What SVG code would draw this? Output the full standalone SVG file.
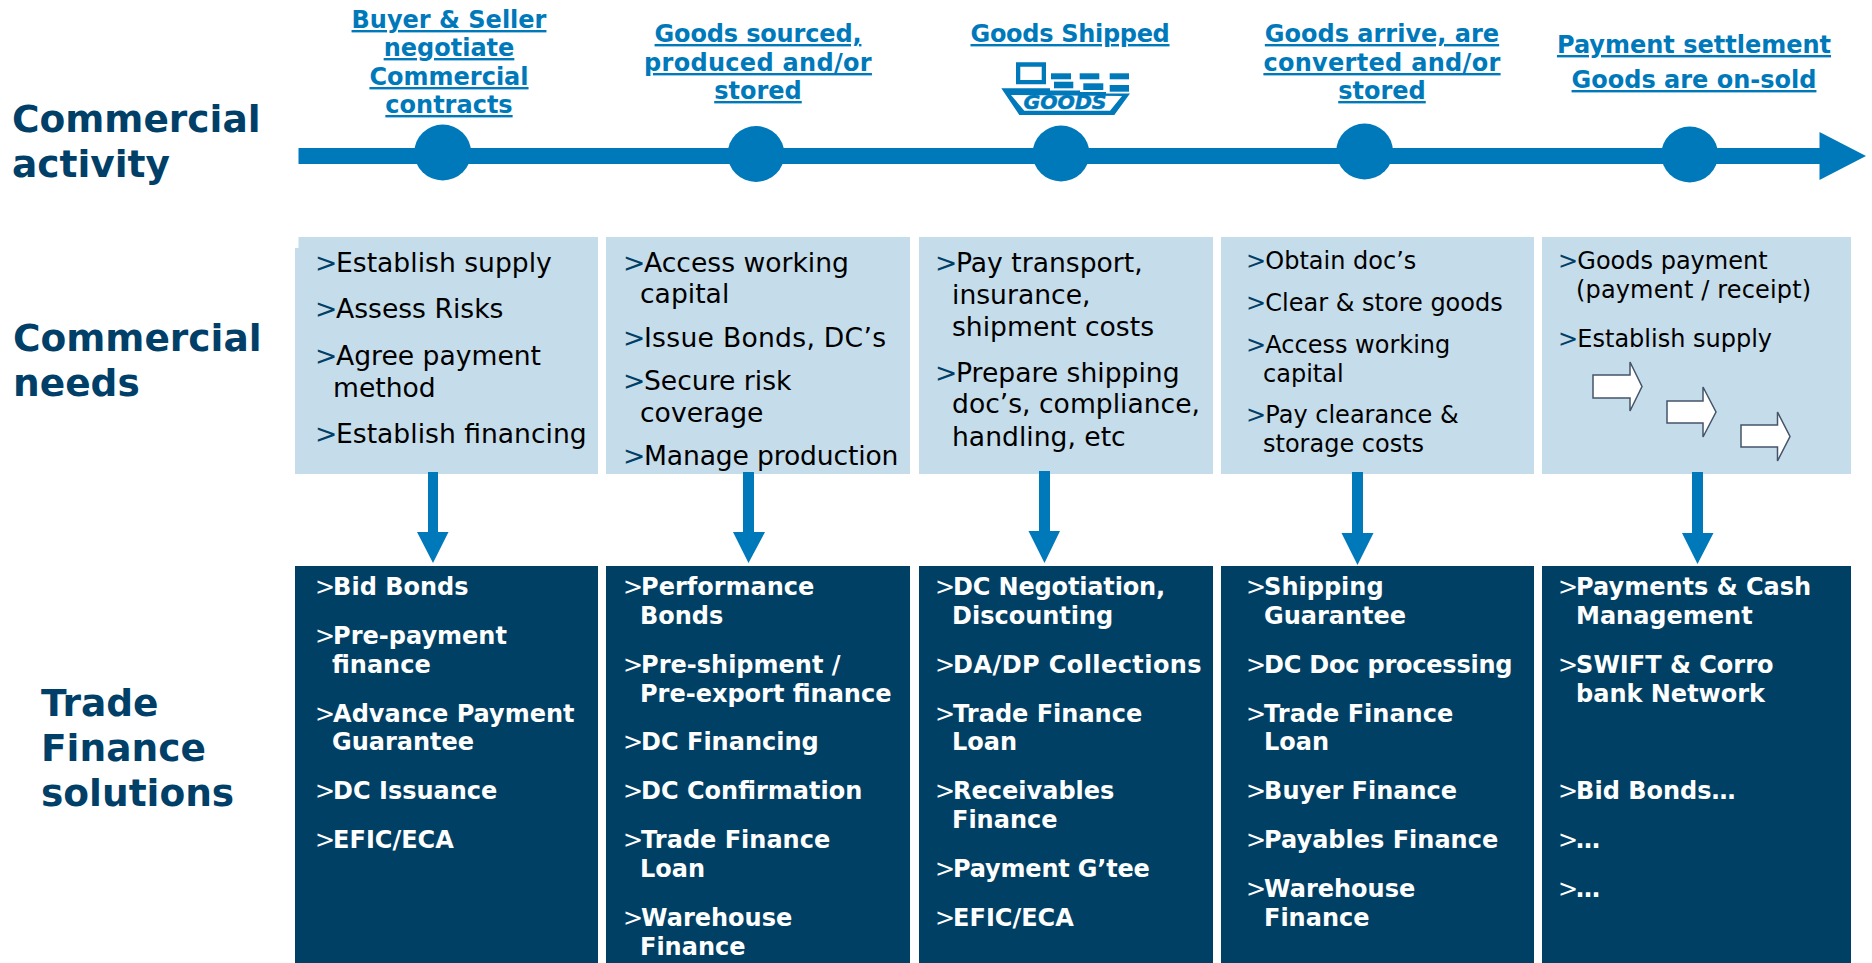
<svg xmlns="http://www.w3.org/2000/svg" width="1872" height="963" viewBox="0 0 1872 963">
<style>
text{font-family:"DejaVu Sans","Verdana",sans-serif}
.lbl{font-size:37.500px;font-weight:700;fill:#004068}
.hd{font-size:24px;font-weight:700;fill:#0079bb;text-anchor:middle;text-decoration:underline}
.n{font-size:26.600px;fill:#000}
.s{font-size:24px;fill:#000}
.n .g{fill:#004068;letter-spacing:-1.300px}
.s .g{fill:#004068;letter-spacing:-.8px}
.d{font-size:24px;font-weight:700;fill:#fff}
.d .g{font-weight:400;letter-spacing:-2px}
.light{fill:#c5dcea}
.dark{fill:#004065}
.blue{fill:#0079bb}
.out{fill:#fff;stroke:#44546a;stroke-width:1.5}
</style>
<rect width="1872" height="963" fill="#fff"/>
<g id="labels">
<text class="lbl" x="12" y="132">Commercial</text><text class="lbl" x="12" y="177">activity</text>
<text class="lbl" x="13" y="351">Commercial</text><text class="lbl" x="13" y="396">needs</text>
<text class="lbl" x="41" y="716">Trade</text><text class="lbl" x="41" y="761">Finance</text><text class="lbl" x="41" y="806">solutions</text>
</g>
<g id="timeline">
<path class="blue" d="M298.500 148H1819.500V132L1866 156L1819.500 180V164H298.500Z"/>
<ellipse class="blue" cx="442.700" cy="152.500" rx="28.400" ry="28"/>
<ellipse class="blue" cx="756" cy="154" rx="28.400" ry="28"/>
<ellipse class="blue" cx="1061" cy="153.500" rx="28.400" ry="28"/>
<ellipse class="blue" cx="1364.600" cy="151.500" rx="28.400" ry="28"/>
<ellipse class="blue" cx="1689.700" cy="154.500" rx="28.400" ry="28"/>
</g>
<g id="head-1"><text class="hd" x="449" y="28">Buyer &amp; Seller</text><text class="hd" x="449" y="56">negotiate</text><text class="hd" x="449" y="85">Commercial</text><text class="hd" x="449" y="113">contracts</text></g>
<g id="head-2"><text class="hd" x="758" y="42" style="letter-spacing:-.15px">Goods sourced,</text><text class="hd" x="758" y="71" style="letter-spacing:.3px">produced and/or</text><text class="hd" x="758" y="99">stored</text></g>
<g id="head-3"><text class="hd" x="1070" y="42" style="letter-spacing:-.3px">Goods Shipped</text>
<g id="ship">
<path class="blue" fill-rule="evenodd" d="M1016 62.300H1046V84.300H1016ZM1020.300 66.700V80H1041.700V66.700Z"/>
<rect class="blue" x="1051" y="73.300" width="20" height="6"/><rect class="blue" x="1079.700" y="73.300" width="19.600" height="6"/><rect class="blue" x="1109.700" y="73.300" width="19.300" height="6"/>
<rect class="blue" x="1054" y="81.700" width="19.300" height="6.600"/><rect class="blue" x="1083.300" y="83.300" width="20" height="6.700"/><rect class="blue" x="1109.700" y="85" width="19.300" height="6.700"/>
<path class="blue" fill-rule="evenodd" d="M1001.300 88.300H1050V90.500H1080V92H1106V93.500H1130L1114.300 115H1019.300ZM1011 95L1024.300 110.700H1110L1122 96Z"/>
<text x="1065" y="109.300" text-anchor="middle" font-size="19" font-weight="700" font-style="italic" fill="#0079bb" stroke="#0079bb" stroke-width=".5" textLength="83" lengthAdjust="spacingAndGlyphs">GOODS</text>
</g></g>
<g id="head-4"><text class="hd" x="1382" y="42">Goods arrive, are</text><text class="hd" x="1382" y="71" style="letter-spacing:.3px">converted and/or</text><text class="hd" x="1382" y="99">stored</text></g>
<g id="head-5"><text class="hd" x="1694" y="53">Payment settlement</text><text class="hd" x="1694" y="88">Goods are on-sold</text></g>

<g id="need-1"><path class="light" d="M298.500 237H598V474H295V248H298.500Z"/>
<g class="n"><text x="315" y="272"><tspan class="g">&gt;</tspan>Establish supply</text><text x="315" y="318"><tspan class="g">&gt;</tspan>Assess Risks</text><text x="315" y="365"><tspan class="g">&gt;</tspan>Agree payment</text><text x="333" y="397">method</text><text x="315" y="443"><tspan class="g">&gt;</tspan>Establish financing</text></g></g>
<g id="need-2"><rect class="light" x="606" y="237" width="304" height="237"/>
<g class="n"><text x="623" y="272"><tspan class="g">&gt;</tspan>Access working</text><text x="640" y="303">capital</text><text x="623" y="347" style="letter-spacing:.28px"><tspan class="g">&gt;</tspan>Issue Bonds, DC’s</text><text x="623" y="390"><tspan class="g">&gt;</tspan>Secure risk</text><text x="640" y="422">coverage</text><text x="623" y="465" style="letter-spacing:-.15px"><tspan class="g">&gt;</tspan>Manage production</text></g></g>
<g id="need-3"><rect class="light" x="919" y="237" width="294" height="237"/>
<g class="n"><text x="935" y="272"><tspan class="g">&gt;</tspan>Pay transport,</text><text x="952" y="304">insurance,</text><text x="952" y="336">shipment costs</text><text x="935" y="382"><tspan class="g">&gt;</tspan>Prepare shipping</text><text x="952" y="413">doc’s, compliance,</text><text x="952" y="446">handling, etc</text></g></g>
<g id="need-4"><rect class="light" x="1221" y="237" width="313" height="237"/>
<g class="s"><text x="1246" y="269"><tspan class="g">&gt;</tspan>Obtain doc’s</text><text x="1246" y="311"><tspan class="g">&gt;</tspan>Clear &amp; store goods</text><text x="1246" y="353"><tspan class="g">&gt;</tspan>Access working</text><text x="1263" y="382">capital</text><text x="1246" y="423"><tspan class="g">&gt;</tspan>Pay clearance &amp;</text><text x="1263" y="452">storage costs</text></g></g>
<g id="need-5"><rect class="light" x="1542" y="237" width="309" height="237"/>
<g class="s"><text x="1558" y="269"><tspan class="g">&gt;</tspan>Goods payment</text><text x="1576" y="298" style="letter-spacing:.15px">(payment / receipt)</text><text x="1558" y="347"><tspan class="g">&gt;</tspan>Establish supply</text></g>
<path class="out" d="M1593 375H1630V362L1642 386.500L1630 411V398H1593Z"/>
<path class="out" d="M1667 401H1703V387L1716 412L1703 437V423H1667Z"/>
<path class="out" d="M1741 425H1777.500V412L1790 436.500L1777.500 461V447H1741Z"/>
</g>

<g id="connectors" class="blue">
<path d="M428 472H438V532H448.500L433 563L417 532H428Z"/>
<path d="M743 472H754V532H765L748.500 563L733 532H743Z"/>
<path d="M1039 471H1050V531H1060L1044.500 563L1028.500 531H1039Z"/>
<path d="M1352 472H1363V533H1373.500L1357.500 565L1341.500 533H1352Z"/>
<path d="M1692 472H1703V533H1713.500L1697.500 564L1682 533H1692Z"/>
</g>

<g id="sol-1"><rect class="dark" x="295" y="566" width="303" height="397"/>
<g class="d"><text x="315" y="595"><tspan class="g">&gt;</tspan>Bid Bonds</text><text x="315" y="644"><tspan class="g">&gt;</tspan>Pre-payment</text><text x="332" y="673">finance</text><text x="315" y="722"><tspan class="g">&gt;</tspan>Advance Payment</text><text x="332" y="750">Guarantee</text><text x="315" y="799"><tspan class="g">&gt;</tspan>DC Issuance</text><text x="315" y="848"><tspan class="g">&gt;</tspan>EFIC/ECA</text></g></g>
<g id="sol-2"><rect class="dark" x="606" y="566" width="304" height="397"/>
<g class="d"><text x="623" y="595"><tspan class="g">&gt;</tspan>Performance</text><text x="640" y="624">Bonds</text><text x="623" y="673"><tspan class="g">&gt;</tspan>Pre-shipment /</text><text x="640" y="702">Pre-export finance</text><text x="623" y="750"><tspan class="g">&gt;</tspan>DC Financing</text><text x="623" y="799"><tspan class="g">&gt;</tspan>DC Confirmation</text><text x="623" y="848"><tspan class="g">&gt;</tspan>Trade Finance</text><text x="640" y="877">Loan</text><text x="623" y="926"><tspan class="g">&gt;</tspan>Warehouse</text><text x="640" y="955">Finance</text></g></g>
<g id="sol-3"><rect class="dark" x="919" y="566" width="294" height="397"/>
<g class="d"><text x="935" y="595" style="letter-spacing:-.16px"><tspan class="g">&gt;</tspan>DC Negotiation,</text><text x="952" y="624">Discounting</text><text x="935" y="673" style="letter-spacing:.42px"><tspan class="g">&gt;</tspan>DA/DP Collections</text><text x="935" y="722"><tspan class="g">&gt;</tspan>Trade Finance</text><text x="952" y="750">Loan</text><text x="935" y="799"><tspan class="g">&gt;</tspan>Receivables</text><text x="952" y="828">Finance</text><text x="935" y="877" style="letter-spacing:-.2px"><tspan class="g">&gt;</tspan>Payment G’tee</text><text x="935" y="926"><tspan class="g">&gt;</tspan>EFIC/ECA</text></g></g>
<g id="sol-4"><rect class="dark" x="1221" y="566" width="313" height="397"/>
<g class="d"><text x="1246" y="595"><tspan class="g">&gt;</tspan>Shipping</text><text x="1264" y="624">Guarantee</text><text x="1246" y="673" style="letter-spacing:-.22px"><tspan class="g">&gt;</tspan>DC Doc processing</text><text x="1246" y="722"><tspan class="g">&gt;</tspan>Trade Finance</text><text x="1264" y="750">Loan</text><text x="1246" y="799"><tspan class="g">&gt;</tspan>Buyer Finance</text><text x="1246" y="848"><tspan class="g">&gt;</tspan>Payables Finance</text><text x="1246" y="897"><tspan class="g">&gt;</tspan>Warehouse</text><text x="1264" y="926">Finance</text></g></g>
<g id="sol-5"><rect class="dark" x="1542" y="566" width="309" height="397"/>
<g class="d"><text x="1558" y="595"><tspan class="g">&gt;</tspan>Payments &amp; Cash</text><text x="1576" y="624">Management</text><text x="1558" y="673"><tspan class="g">&gt;</tspan>SWIFT &amp; Corro</text><text x="1576" y="702">bank Network</text><text x="1558" y="799"><tspan class="g">&gt;</tspan>Bid Bonds…</text><text x="1558" y="848"><tspan class="g">&gt;</tspan>…</text><text x="1558" y="897"><tspan class="g">&gt;</tspan>…</text></g></g>
</svg>
